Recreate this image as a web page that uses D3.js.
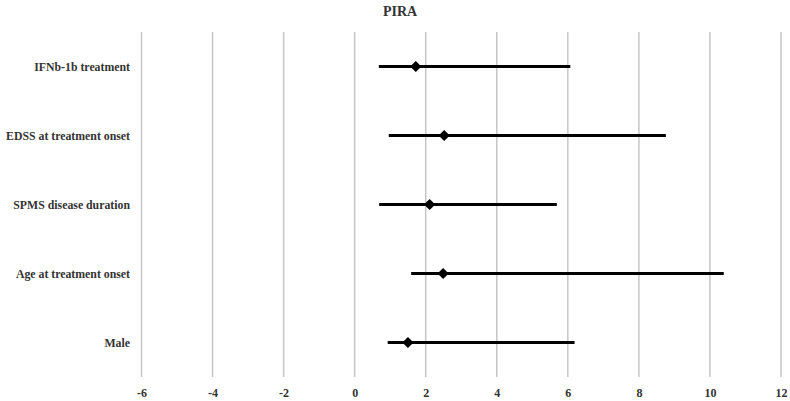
<!DOCTYPE html>
<html>
<head>
    <meta charset="utf-8">
    <script src="https://d3js.org/d3.v7.min.js"></script>
    <style>
        body { margin: 0; background: #fff; }
        text { font-family: "Liberation Serif", "DejaVu Serif", serif; }
    </style>
</head>
<body>
    <div id="my_dataviz"></div>
    <script>
        // data
        var labels = ["IFNb-1b treatment", "EDSS at treatment onset", "SPMS disease duration", "Age at treatment onset", "Male"];
        var estimate = [1.72, 2.52, 2.11, 2.49, 1.50];
        var lower = [0.68, 0.96, 0.69, 1.59, 0.93];
        var upper = [6.07, 8.76, 5.69, 10.39, 6.19];
        var xTicks = [-6, -4, -2, 0, 2, 4, 6, 8, 10, 12];

        var width = 790;
        var height = 401;
        var margin = { top: 32, right: 9, bottom: 24, left: 141.5 };

        var svg = d3.select("#my_dataviz")
            .append("svg")
            .attr("width", width)
            .attr("height", height);

        var x = d3.scaleLinear()
            .domain([-6, 12])
            .range([margin.left, width - margin.right]);

        var y = d3.scaleBand()
            .domain(labels)
            .range([margin.top, height - margin.bottom]);

        // vertical grid lines
        svg.append("g")
            .selectAll("line")
            .data(xTicks)
            .enter()
            .append("line")
            .attr("x1", d => x(d))
            .attr("x2", d => x(d))
            .attr("y1", margin.top)
            .attr("y2", height - margin.bottom)
            .style("stroke", "#c6c6c6")
            .style("stroke-width", 1.5);

        // x axis labels (plain hyphen for negatives, like the original)
        var xAxis = svg.append("g")
            .attr("transform", "translate(0," + (height - margin.bottom) + ")")
            .call(d3.axisBottom(x).tickValues(xTicks).tickFormat(d => String(d)).tickSize(0).tickPadding(11));
        xAxis.select(".domain").remove();
        xAxis.selectAll("text")
            .style("font-family", "'Liberation Serif', serif")
            .style("font-size", "12px")
            .style("font-weight", "bold")
            .style("fill", "#333");

        // row labels
        svg.append("g")
            .selectAll("text")
            .data(labels)
            .enter()
            .append("text")
            .attr("x", 130)
            .attr("y", d => y(d) + y.bandwidth() / 2)
            .attr("dy", ".35em")
            .attr("text-anchor", "end")
            .style("font-size", "11.8px")
            .style("font-weight", "bold")
            .style("fill", "#333")
            .text(d => d);

        // confidence intervals
        svg.append("g")
            .selectAll("line")
            .data(labels)
            .enter()
            .append("line")
            .attr("x1", (d, i) => x(lower[i]))
            .attr("x2", (d, i) => x(upper[i]))
            .attr("y1", d => y(d) + y.bandwidth() / 2)
            .attr("y2", d => y(d) + y.bandwidth() / 2)
            .style("stroke", "#000")
            .style("stroke-width", 3);

        // point estimates (diamonds)
        svg.append("g")
            .selectAll("path")
            .data(labels)
            .enter()
            .append("path")
            .attr("d", d3.symbol().type(d3.symbolDiamond2).size(80))
            .attr("transform", (d, i) => "translate(" + x(estimate[i]) + "," + (y(d) + y.bandwidth() / 2) + ")")
            .style("fill", "#000");

        // title
        svg.append("text")
            .attr("x", 400)
            .attr("y", 16)
            .attr("text-anchor", "middle")
            .style("font-size", "14px")
            .style("font-weight", "bold")
            .style("fill", "#333")
            .text("PIRA");
    </script>
</body>
</html>
